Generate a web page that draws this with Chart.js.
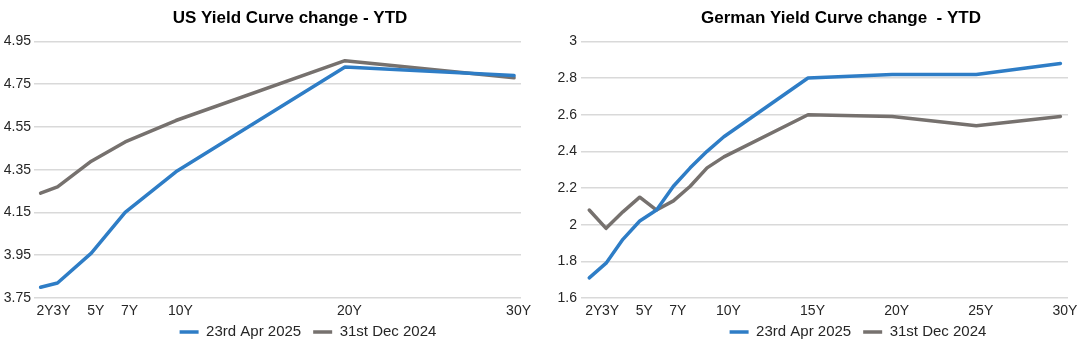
<!DOCTYPE html>
<html>
<head>
<meta charset="utf-8">
<script src="https://cdn.jsdelivr.net/npm/chart.js@4.4.1/dist/chart.umd.min.js"></script>
<style>
  body { margin:0; background:#fff; }
  .box { position:absolute; top:0; height:342px; }
</style>
</head>
<body>
<div class="box" style="left:0;width:540px"><canvas id="usChart" width="540" height="342"></canvas></div>
<div class="box" style="left:540px;width:545px"><canvas id="deChart" width="545" height="342"></canvas></div>
<script>
// ======================
// DATA
// ======================
const seriesNames = ["23rd Apr 2025", "31st Dec 2024"];

// US curve
const usTerms = [2, 3, 5, 7, 10, 20, 30];
const usApr = [3.80, 3.82, 3.96, 4.15, 4.34, 4.83, 4.79];
const usDec = [4.24, 4.27, 4.39, 4.48, 4.58, 4.86, 4.78];
const usXTicks = [2, 3, 5, 7, 10, 20, 30];
const usYTicks = [3.75, 3.95, 4.15, 4.35, 4.55, 4.75, 4.95];

// German curve
const deTerms = [2, 3, 4, 5, 6, 7, 8, 9, 10, 15, 20, 25, 30];
const deApr = [1.71, 1.79, 1.92, 2.02, 2.08, 2.21, 2.31, 2.40, 2.48, 2.80, 2.82, 2.82, 2.88];
const deDec = [2.08, 1.98, 2.07, 2.15, 2.08, 2.13, 2.21, 2.31, 2.37, 2.60, 2.59, 2.54, 2.59];
const deXTicks = [2, 3, 5, 7, 10, 15, 20, 25, 30];
const deYTicks = [1.6, 1.8, 2, 2.2, 2.4, 2.6, 2.8, 3];

const BLUE = "#2E7DC6";
const GREY = "#76716E";
const FONT = "'Liberation Sans', Arial, sans-serif";

// nudges title / legend sideways (excel centres them a bit right of the plot)
// and lets the x labels spill below their squeezed axis box
const shiftBoxes = {
  id: "shiftBoxes",
  afterLayout(chart, args, opts) {
    const t = chart.titleBlock, l = chart.legend, xs = chart.scales.x;
    if (t && opts.title) { t.left += opts.title; t.right += opts.title; }
    if (l && opts.legend) {
      l.left += opts.legend; l.right += opts.legend;
      l.legendHitBoxes.forEach(h => h.left += opts.legend);
    }
    if (xs) xs.bottom = xs.top + 30;
  }
};

function pts(xs, ys){ return xs.map((x,i)=>({x:x, y:ys[i]})); }

function makeChart(id, cfg){
  return new Chart(document.getElementById(id), {
    type: "line",
    data: {
      datasets: [
        { label: seriesNames[0], data: pts(cfg.terms, cfg.apr), borderColor: BLUE, backgroundColor: BLUE, borderWidth: 3.5 },
        { label: seriesNames[1], data: pts(cfg.terms, cfg.dec), borderColor: GREY, backgroundColor: GREY, borderWidth: 3.5 }
      ]
    },
    plugins: [shiftBoxes],
    options: {
      responsive: false,
      animation: false,
      layout: { padding: { left: 0, right: cfg.padRight, top: 0, bottom: -7.5 } },
      elements: {
        line: { tension: 0, borderCapStyle: "round", borderJoinStyle: "round" },
        point: { radius: 0 }
      },
      plugins: {
        shiftBoxes: cfg.shift,
        title: {
          display: true, text: cfg.title, color: "#000",
          font: { family: FONT, size: 17, weight: "bold" },
          padding: { top: 8, bottom: 13 }
        },
        legend: {
          position: "bottom",
          labels: {
            usePointStyle: true, pointStyle: "line", pointStyleWidth: 19,
            boxHeight: 15, padding: 12, color: "#262626",
            font: { family: FONT, size: 15 }
          }
        },
        tooltip: { enabled: false }
      },
      scales: {
        x: {
          type: "linear", min: cfg.xMin, max: cfg.xMax,
          afterBuildTicks: s => { s.ticks = cfg.xTicks.map(v => ({value: v})); },
          afterFit: s => { s.height = 14.5; },
          grid: { display: false },
          border: { display: false },
          ticks: {
            autoSkip: false, maxRotation: 0, padding: -3, labelOffset: 4.5, color: "#262626",
            font: { family: FONT, size: 14 },
            callback: v => v + "Y"
          }
        },
        y: {
          min: cfg.yTicks[0], max: cfg.yTicks[cfg.yTicks.length-1],
          afterBuildTicks: s => { s.ticks = cfg.yTicks.map(v => ({value: v})); },
          afterFit: s => { s.width = cfg.yWidth; },
          grid: { color: "#D9D9D9", lineWidth: 1.5, drawTicks: false },
          border: { display: false },
          ticks: {
            padding: cfg.yPad, color: "#262626",
            font: { family: FONT, size: 14 },
            callback: v => cfg.yFmt(v)
          }
        }
      }
    }
  });
}

makeChart("usChart", {
  title: "US Yield Curve change - YTD",
  terms: usTerms, apr: usApr, dec: usDec,
  xTicks: usXTicks, yTicks: usYTicks,
  xMin: 1.61, xMax: 30.41,
  yWidth: 34, yPad: 3, padRight: 19,
  yFmt: v => v.toFixed(2),
  shift: { title: 29.5, legend: 47.5 }
});

makeChart("deChart", {
  title: "German Yield Curve change  - YTD",
  terms: deTerms, apr: deApr, dec: deDec,
  xTicks: deXTicks, yTicks: deYTicks,
  xMin: 1.51, xMax: 30.45,
  yWidth: 41, yPad: 4, padRight: 17,
  yFmt: v => String(Math.round(v*10)/10),
  shift: { title: 37, legend: 54 }
});
</script>
</body>
</html>
